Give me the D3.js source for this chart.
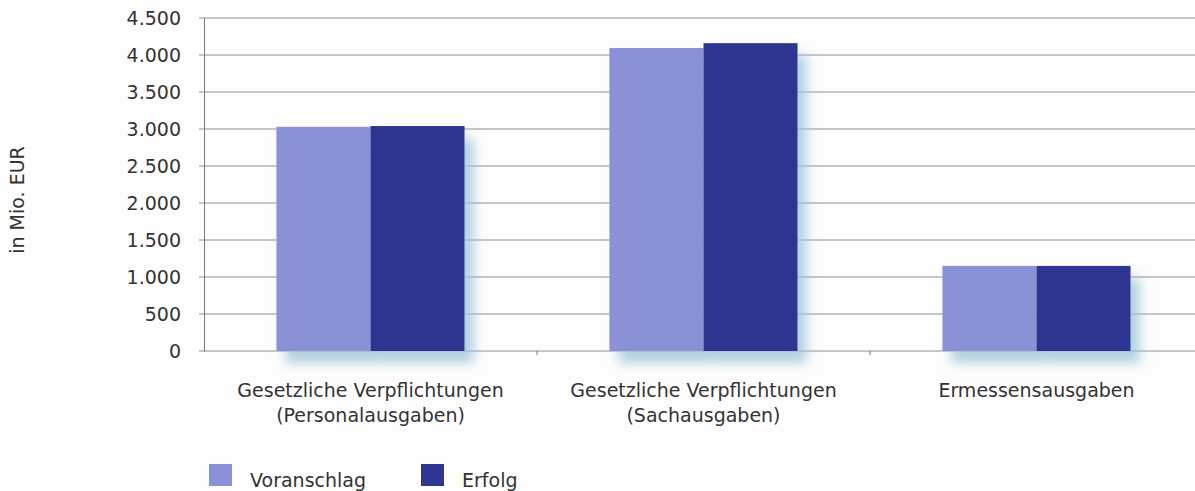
<!DOCTYPE html>
<html>
<head>
<meta charset="utf-8">
<script src="https://cdn.jsdelivr.net/npm/d3@7"></script>
<style>
  body { margin: 0; background: #fdfdfd; }
  text { font-family: "DejaVu Sans", sans-serif; fill: #333; }
</style>
</head>
<body>
<svg width="1195" height="491"></svg>
<script>
const categories = [
  ["Gesetzliche Verpflichtungen", "(Personalausgaben)"],
  ["Gesetzliche Verpflichtungen", "(Sachausgaben)"],
  ["Ermessensausgaben"]
];
const series = ["Voranschlag", "Erfolg"];
const voranschlag = [3030, 4095, 1150];
const erfolg = [3040, 4160, 1150];
const yTicks = [0, 500, 1000, 1500, 2000, 2500, 3000, 3500, 4000, 4500];

const colors = { Voranschlag: "#8a91d7", Erfolg: "#2f3590" };

const svg = d3.select("svg");
const plotLeft = 204, plotRight = 1203, plotTop = 18, plotBottom = 351;

const x = d3.scaleBand()
  .domain(d3.range(categories.length))
  .range([plotLeft, plotRight])
  .paddingInner(0.435)
  .paddingOuter(0.2175);
const xs = d3.scaleBand().domain(series).range([0, x.bandwidth()]);
const y = d3.scaleLinear().domain([0, 4500]).range([plotBottom, plotTop]);

const defs = svg.append("defs");
const f = defs.append("filter").attr("id", "shadow")
  .attr("x", "-20%").attr("y", "-20%").attr("width", "150%").attr("height", "150%");
f.append("feDropShadow").attr("dx", 9).attr("dy", 12).attr("stdDeviation", 6)
  .attr("flood-color", "#9ec4d8").attr("flood-opacity", 0.8);

// gridlines
svg.append("g")
  .selectAll("line")
  .data(yTicks)
  .join("line")
  .attr("x1", plotLeft - 5).attr("x2", 1195)
  .attr("y1", d => y(d)).attr("y2", d => y(d))
  .attr("stroke", "#8a8f94").attr("stroke-width", 1);

// y axis
const yAxis = svg.append("g")
  .attr("transform", `translate(${plotLeft},0)`)
  .call(d3.axisLeft(y).tickValues(yTicks).tickSize(0).tickPadding(23)
    .tickFormat(d => d3.format(",")(d).replace(/,/g, ".")));
yAxis.select(".domain").attr("stroke", "#777");
yAxis.selectAll("text").style("font-size", "19px").attr("fill", "#333");

// small x ticks between groups
svg.append("g")
  .selectAll("line")
  .data(d3.range(1, categories.length))
  .join("line")
  .attr("x1", d => x(d) - x.step() * x.paddingInner() / 2)
  .attr("x2", d => x(d) - x.step() * x.paddingInner() / 2)
  .attr("y1", plotBottom).attr("y2", plotBottom + 4)
  .attr("stroke", "#777");

// bars
const groups = svg.append("g")
  .selectAll("g")
  .data(categories.map((c, i) => ({ i, values: [voranschlag[i], erfolg[i]] })))
  .join("g")
  .attr("transform", d => `translate(${x(d.i)},0)`)
  .attr("filter", "url(#shadow)");

groups.selectAll("rect")
  .data(d => d.values.map((v, k) => ({ key: series[k], value: v })))
  .join("rect")
  .attr("x", d => xs(d.key))
  .attr("width", xs.bandwidth())
  .attr("y", d => y(d.value))
  .attr("height", d => y(0) - y(d.value))
  .attr("fill", d => colors[d.key]);

// category labels
svg.append("g")
  .selectAll("text")
  .data(categories.map((c, i) => ({ i, lines: c })))
  .join("text")
  .attr("text-anchor", "middle")
  .style("font-size", "19px")
  .attr("x", d => x(d.i) + x.bandwidth() / 2)
  .attr("y", 397)
  .selectAll("tspan")
  .data(d => d.lines)
  .join("tspan")
  .attr("x", function () { return this.parentNode.getAttribute("x"); })
  .attr("dy", (d, k) => k === 0 ? 0 : 25)
  .text(d => d);

// y label
svg.append("text")
  .attr("transform", "translate(24,200) rotate(-90)")
  .attr("text-anchor", "middle")
  .style("font-size", "19px")
  .text("in Mio. EUR");

// legend
const legend = svg.append("g")
  .selectAll("g")
  .data(series)
  .join("g")
  .attr("transform", (d, i) => `translate(${209 + i * 212},464)`);
legend.append("rect").attr("width", 23).attr("height", 22).attr("fill", d => colors[d]);
legend.append("text").attr("x", 41).attr("y", 23).style("font-size", "19px").text(d => d);
</script>
</body>
</html>
